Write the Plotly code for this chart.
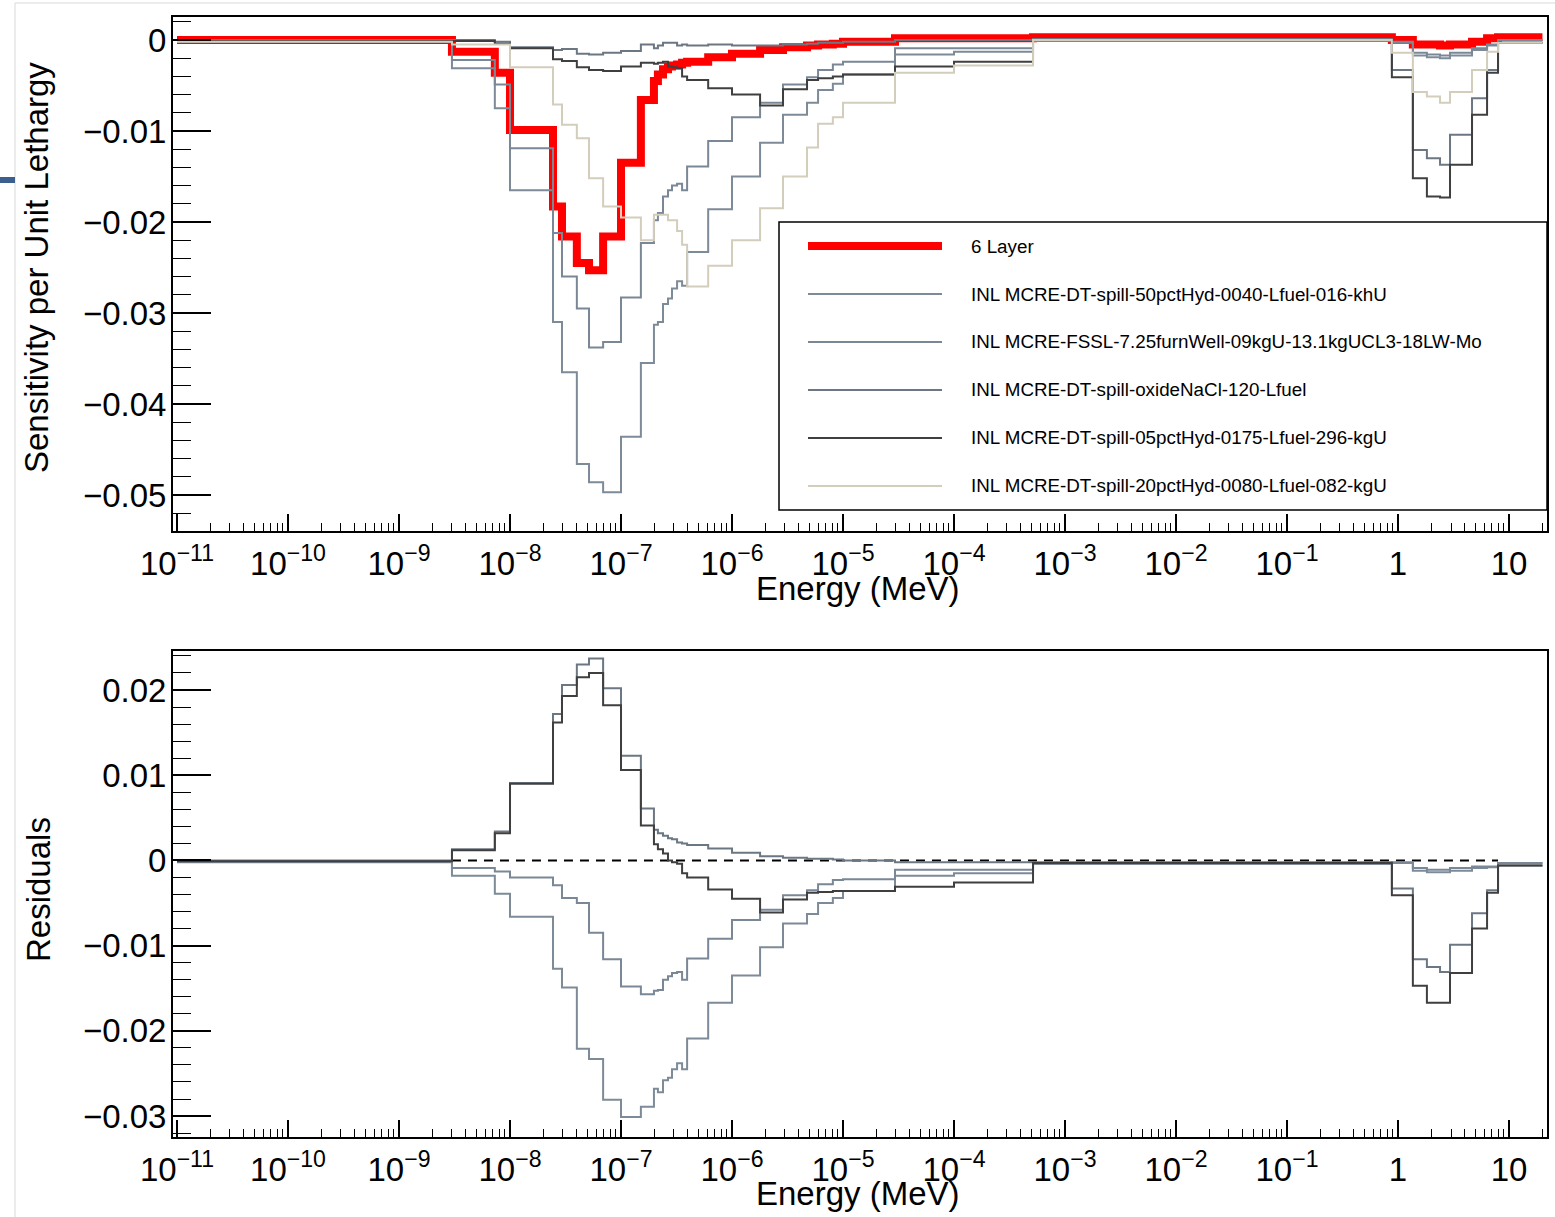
import plotly.graph_objects as go

W, H = 1555, 1217

# Group boundaries (MeV) shared by every sensitivity profile
energy_edges = [1e-11, 3.0e-9, 7.3e-9, 1.0e-8, 2.44e-8, 2.94e-8, 4.0e-8, 5.15e-8, 6.9e-8, 1.0e-7,
                1.51e-7, 1.98e-7, 2.15e-7, 2.39e-7, 2.65e-7, 2.88e-7, 3.2e-7, 3.55e-7, 3.94e-7, 6.1e-7,
                1.0e-6, 1.79e-6, 2.88e-6, 4.74e-6, 5.96e-6, 8.1e-6, 1.0e-5, 2.94e-5, 1.0e-4, 5.15e-4,
                0.88, 1.36, 1.82, 2.39, 2.94, 4.64, 6.34, 7.96, 20.0]

# Sensitivity per unit lethargy, one value per group
sens_6layer = [0.0, -0.0013, -0.0036, -0.0099, -0.0183, -0.0216, -0.0245, -0.0253, -0.0216, -0.0135,
               -0.0066, -0.0045, -0.0038, -0.0032, -0.0029, -0.0028, -0.0027, -0.0025, -0.0024, -0.0019,
               -0.0015, -0.0011, -0.0008, -0.0006, -0.0005, -0.0004, -0.0002, 0.0002, 0.0002, 0.0003,
               0.0, -0.0005, -0.0005, -0.0006, -0.0005, -0.0002, 0.0002, 0.0003]

sens_50pct = [-0.0002, -0.0031, -0.0075, -0.0165, -0.0310, -0.0365, -0.0466, -0.0486, -0.0497, -0.0436,
              -0.0355, -0.0313, -0.0310, -0.0290, -0.0284, -0.0273, -0.0265, -0.0270, -0.0233, -0.0186,
              -0.0150, -0.0113, -0.0082, -0.0069, -0.0055, -0.0048, -0.0038, -0.0016, -0.0013, -0.0001,
              -0.0003, -0.0017, -0.0019, -0.0020, -0.0017, -0.0011, -0.0006, 0.0]

sens_fssl = [-0.0001, -0.0022, -0.0049, -0.0119, -0.0212, -0.0260, -0.0295, -0.0338, -0.0332, -0.0283,
             -0.0223, -0.0198, -0.0190, -0.0172, -0.0165, -0.0160, -0.0158, -0.0165, -0.0139, -0.0111,
             -0.0085, -0.0069, -0.0049, -0.0041, -0.0033, -0.0027, -0.0024, -0.0009, -0.0009, -0.0001,
             -0.0002, -0.0014, -0.0016, -0.0017, -0.0014, -0.0009, -0.0005, 0.0]

sens_oxide = [0.0, 0.0, -0.0002, -0.0008, -0.0011, -0.0010, -0.0015, -0.0016, -0.0014, -0.0012,
              -0.0005, -0.0009, -0.0006, -0.0003, -0.0003, -0.0003, -0.0006, -0.0005, -0.0006, -0.0005,
              -0.0006, -0.0006, -0.0005, -0.0004, -0.0003, -0.0003, -0.0002, 0.0, 0.0, 0.0001,
              -0.0033, -0.0121, -0.0130, -0.0137, -0.0104, -0.0064, -0.0033, -0.0003]

sens_05pct = [-0.0001, -0.0001, -0.0004, -0.0009, -0.0021, -0.0023, -0.0030, -0.0033, -0.0034, -0.0029,
              -0.0025, -0.0026, -0.0025, -0.0024, -0.0029, -0.0030, -0.0031, -0.0040, -0.0044, -0.0053,
              -0.0060, -0.0072, -0.0054, -0.0044, -0.0042, -0.0040, -0.0038, -0.0029, -0.0024, 0.0,
              -0.0041, -0.0152, -0.0172, -0.0173, -0.0137, -0.0082, -0.0036, -0.0003]

sens_20pct = [-0.0002, -0.0005, -0.0005, -0.0030, -0.0071, -0.0093, -0.0108, -0.0152, -0.0183, -0.0195,
              -0.0220, -0.0192, -0.0192, -0.0192, -0.0198, -0.0198, -0.0210, -0.0225, -0.0271, -0.0248,
              -0.0220, -0.0185, -0.0150, -0.0118, -0.0092, -0.0085, -0.0069, -0.0036, -0.0028, 0.0,
              -0.0014, -0.0057, -0.0062, -0.0069, -0.0057, -0.0033, -0.0013, -0.0003]

reference_name = "6 Layer"
reference_color = "#ff0000"

# name, values, colour, shown in the residual panel
benchmarks = [
    ("INL MCRE-DT-spill-50pctHyd-0040-Lfuel-016-khU", sens_50pct, "#7d8a98", True),
    ("INL MCRE-FSSL-7.25furnWell-09kgU-13.1kgUCL3-18LW-Mo", sens_fssl, "#7a8796", True),
    ("INL MCRE-DT-spill-oxideNaCl-120-Lfuel", sens_oxide, "#6c7784", True),
    ("INL MCRE-DT-spill-05pctHyd-0175-Lfuel-296-kgU", sens_05pct, "#3f3f3f", True),
    ("INL MCRE-DT-spill-20pctHyd-0080-Lfuel-082-kgU", sens_20pct, "#d3cdbc", False),
]

x_tick_vals = [10.0 ** p for p in range(-11, 2)]
x_tick_text = ["10<sup>\u2212%d</sup>" % (-p) for p in range(-11, 0)] + ["1", "10"]

top_tick_vals = [0.0, -0.01, -0.02, -0.03, -0.04, -0.05]
top_tick_text = ["0", "\u22120.01", "\u22120.02", "\u22120.03", "\u22120.04", "\u22120.05"]
res_tick_vals = [0.02, 0.01, 0.0, -0.01, -0.02, -0.03]
res_tick_text = ["0.02", "0.01", "0", "\u22120.01", "\u22120.02", "\u22120.03"]

FONT = "Liberation Sans, Arial, Helvetica, sans-serif"
TICK_SIZE = 33


def fx(px):
    return px / W


def fy(py):
    return 1 - py / H


def step_xy(values):
    return energy_edges, list(values) + [values[-1]]


fig = go.Figure()

# upper panel: sensitivity profiles
xs, ys = step_xy(sens_6layer)
fig.add_trace(go.Scatter(x=xs, y=ys, mode="lines", line=dict(color=reference_color, width=8, shape="hv"),
                         name=reference_name, xaxis="x", yaxis="y", showlegend=False))
for name, vals, color, _ in benchmarks:
    xs, ys = step_xy(vals)
    fig.add_trace(go.Scatter(x=xs, y=ys, mode="lines", line=dict(color=color, width=2, shape="hv"),
                             name=name, xaxis="x", yaxis="y", showlegend=False))

# lower panel: benchmark minus reference
zero_x = [energy_edges[1], energy_edges[-2]]
fig.add_trace(go.Scatter(x=zero_x, y=[0, 0], mode="lines",
                         line=dict(color="black", width=2, dash="9px,7px"),
                         xaxis="x2", yaxis="y2", showlegend=False))
for name, vals, color, show_res in benchmarks:
    if not show_res:
        continue
    res = [v - r for v, r in zip(vals, sens_6layer)]
    xs, ys = step_xy(res)
    fig.add_trace(go.Scatter(x=xs, y=ys, mode="lines", line=dict(color=color, width=2, shape="hv"),
                             name=name + " residual", xaxis="x2", yaxis="y2", showlegend=False))

x_left, x_right = 173, 1547
top_y0, top_y1 = 17, 531
bot_y0, bot_y1 = 651, 1137

minor_x = [k * 10.0 ** p for p in range(-11, 2) for k in range(2, 10) if k * 10.0 ** p <= 22]

xaxis_common = dict(
    type="log", range=[-11.036, 1.342], automargin=False,
    tickmode="array", tickvals=x_tick_vals, ticktext=x_tick_text,
    ticks="inside", ticklen=17, tickwidth=1.5, tickcolor="black",
    minor=dict(tickmode="array", tickvals=minor_x, ticks="inside", ticklen=8,
               tickwidth=1.2, tickcolor="black", showgrid=False),
    showline=True, linecolor="black", linewidth=2, mirror=True,
    showgrid=False, zeroline=False,
    tickfont=dict(family=FONT, size=TICK_SIZE, color="black"),
    ticklabelstandoff=2,
    domain=[fx(x_left), fx(x_right)],
)

yaxis_common = dict(
    tickmode="array", automargin=False,
    ticks="inside", ticklen=38, tickwidth=1.5, tickcolor="black",
    minor=dict(dtick=0.002, tick0=0, ticks="inside", ticklen=18, tickwidth=1.2,
               tickcolor="black", showgrid=False),
    showline=True, linecolor="black", linewidth=2, mirror=True,
    showgrid=False, zeroline=False,
    tickfont=dict(family=FONT, size=TICK_SIZE, color="black"),
    ticklabelstandoff=-2,
)

fig.update_layout(
    width=W, height=H,
    margin=dict(l=0, r=0, t=0, b=0, autoexpand=False),
    paper_bgcolor="white", plot_bgcolor="white",
    showlegend=False,
    font=dict(family=FONT, color="black"),
    xaxis=dict(xaxis_common, anchor="y"),
    xaxis2=dict(xaxis_common, anchor="y2"),
    yaxis=dict(yaxis_common, anchor="x", range=[-0.05396, 0.00253],
               tickvals=top_tick_vals, ticktext=top_tick_text,
               domain=[fy(top_y1), fy(top_y0)]),
    yaxis2=dict(yaxis_common, anchor="x2", range=[-0.03246, 0.02458],
                tickvals=res_tick_vals, ticktext=res_tick_text,
                domain=[fy(bot_y1), fy(bot_y0)]),
)

annotations = [
    dict(text="Energy (MeV)", x=fx(858), y=fy(588), font=dict(size=33)),
    dict(text="Energy (MeV)", x=fx(858), y=fy(1193), font=dict(size=33)),
    dict(text="Sensitivity per Unit Lethargy", x=fx(36), y=fy(268), textangle=-90, font=dict(size=33)),
    dict(text="Residuals", x=fx(38), y=fy(890), textangle=-90, font=dict(size=33)),
]
for a in annotations:
    a.update(xref="paper", yref="paper", showarrow=False, xanchor="center", yanchor="middle")
    a["font"].update(family=FONT, color="black")

shapes = []

# legend box
leg_x0, leg_x1, leg_y0, leg_y1 = 779, 1547, 222, 510
shapes.append(dict(type="rect", xref="paper", yref="paper",
                   x0=fx(leg_x0), x1=fx(leg_x1), y0=fy(leg_y1), y1=fy(leg_y0),
                   line=dict(color="black", width=1.5), fillcolor="white", layer="above"))
legend_rows = [(reference_name, reference_color, 8)] + [(n, c, 2) for n, _, c, _ in benchmarks]
for i, (name, color, width) in enumerate(legend_rows):
    row_y = 246 + 48 * i
    shapes.append(dict(type="line", xref="paper", yref="paper",
                       x0=fx(808), x1=fx(942), y0=fy(row_y), y1=fy(row_y),
                       line=dict(color=color, width=width), layer="above"))
    annotations.append(dict(text=name, xref="paper", yref="paper", x=fx(969), y=fy(row_y),
                            xanchor="left", yanchor="middle", showarrow=False,
                            font=dict(family=FONT, size=18.8, color="black")))

# page edge and marker around the figure
shapes.append(dict(type="line", xref="paper", yref="paper", x0=fx(15), x1=fx(15), y0=fy(3), y1=0,
                   line=dict(color="#d9d9d9", width=1)))
shapes.append(dict(type="line", xref="paper", yref="paper", x0=fx(15), x1=1, y0=fy(3), y1=fy(3),
                   line=dict(color="#d9d9d9", width=1)))
shapes.append(dict(type="rect", xref="paper", yref="paper", x0=0, x1=fx(15), y0=fy(183), y1=fy(177),
                   line=dict(width=0), fillcolor="#3b5f8f"))

fig.update_layout(annotations=annotations, shapes=shapes)

fig.write_html("out.html")
